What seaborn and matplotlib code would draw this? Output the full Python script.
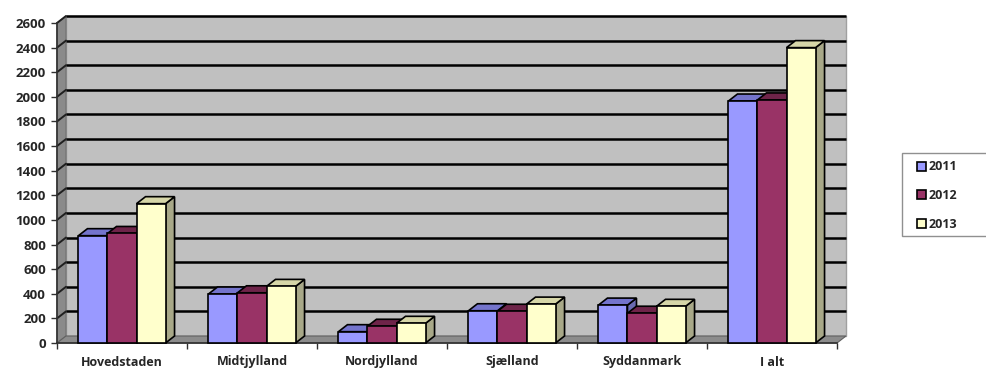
import numpy as np
import pandas as pd
import seaborn as sns
import matplotlib
matplotlib.use("Agg")
import matplotlib.pyplot as plt
from matplotlib.patches import Polygon, Rectangle, Patch

regions = ["Hovedstaden", "Midtjylland", "Nordjylland", "Sjælland", "Syddanmark", "I alt"]
years = ["2011", "2012", "2013"]
v2011 = [872, 398, 92, 262, 308, 1966]
v2012 = [890, 408, 136, 258, 242, 1975]
v2013 = [1132, 460, 160, 316, 298, 2400]
yticks = list(range(0, 2601, 200))

front_colors = ["#9999FF", "#993366", "#FFFFCC"]
top_colors = ["#7474CC", "#6E2449", "#D6D6A8"]
side_colors = ["#6A6AB0", "#5E1E3E", "#A8A888"]

df = pd.DataFrame({
    "region": regions * 3,
    "year": [y for y in years for _ in regions],
    "value": v2011 + v2012 + v2013,
})

sns.set_theme(style="white")
plt.rcParams["font.family"] = ["Open Sans", "DejaVu Sans"]

W, H = 987, 369
fig = plt.figure(figsize=(W / 100, H / 100), dpi=100)
fig.patch.set_facecolor("white")
left_px, right_px, bot_px, top_px = 57, 837, 343, 23
ax = fig.add_axes([left_px / W, 1 - bot_px / H, (right_px - left_px) / W, (bot_px - top_px) / H])

sns.barplot(data=df, x="region", y="value", hue="year", palette=front_colors,
            width=0.67, edgecolor="black", linewidth=1.2, ax=ax, legend=False,
            saturation=1, gap=0)

ax.set_xlim(-0.5, 5.5)
ax.set_ylim(0, 2600)
ax.set_facecolor("none")

px_per_x = (right_px - left_px) / 6.0
px_per_y = (bot_px - top_px) / 2600.0
ddx = 9 / px_per_x
ddy = 7 / px_per_y

x0, x1 = -0.5, 5.5
ax.add_patch(Rectangle((x0 + ddx, ddy), 6, 2600, facecolor="#C0C0C0", edgecolor="#A0A0A0",
                       lw=1, zorder=0.5, clip_on=False))
ax.add_patch(Polygon([(x0, 0), (x0, 2600), (x0 + ddx, 2600 + ddy), (x0 + ddx, ddy)],
                     closed=True, facecolor="#8A8A8A", edgecolor="#707070", lw=0.8,
                     zorder=0.6, clip_on=False))
ax.add_patch(Polygon([(x0, 0), (x1, 0), (x1 + ddx, ddy), (x0 + ddx, ddy)],
                     closed=True, facecolor="#8C8C8C", edgecolor="#606060", lw=0.8,
                     zorder=0.6, clip_on=False))
for v in yticks[1:]:
    ax.plot([x0 + ddx, x1 + ddx], [v + ddy, v + ddy], color="black", lw=1.8,
            zorder=0.8, clip_on=False, solid_capstyle="butt")
    ax.plot([x0, x0 + ddx], [v, v + ddy], color="#202020", lw=1.4,
            zorder=0.8, clip_on=False)

bars = [p for p in ax.patches if isinstance(p, Rectangle) and p.get_width() < 1]
bars = sorted(bars, key=lambda p: p.get_x())
for k, p in enumerate(bars):
    x = p.get_x(); w = p.get_width(); h = p.get_height()
    fc = matplotlib.colors.to_hex(p.get_facecolor())
    idx = [c.lower() for c in front_colors].index(fc.lower())
    z = 3 + k * 0.1
    side = Polygon([(x + w, 0), (x + w, h), (x + w + ddx, h + ddy), (x + w + ddx, ddy)],
                   closed=True, facecolor=side_colors[idx], edgecolor="black", lw=1.2,
                   zorder=z, clip_on=False)
    top = Polygon([(x, h), (x + w, h), (x + w + ddx, h + ddy), (x + ddx, h + ddy)],
                  closed=True, facecolor=top_colors[idx], edgecolor="black", lw=1.2,
                  zorder=z + 0.01, clip_on=False)
    ax.add_patch(side)
    ax.add_patch(top)
    p.set_zorder(z + 0.02)
    p.set_clip_on(False)

for s in ["top", "right"]:
    ax.spines[s].set_visible(False)
for s in ["left", "bottom"]:
    ax.spines[s].set_color("#303030")
    ax.spines[s].set_linewidth(1.2)
    ax.spines[s].set_zorder(2)

ax.set_yticks(yticks)
ax.set_yticklabels([str(v) for v in yticks], fontsize=9.5, fontweight="bold")
ax.tick_params(axis="y", direction="out", length=4, width=1, color="#303030", pad=4, left=True)
ax.set_xticks(range(len(regions)))
ax.set_xticklabels(regions, fontsize=9, fontweight="bold")
ax.set_xticks(np.arange(-0.5, 6, 1), minor=True)
ax.tick_params(axis="x", which="major", length=0, pad=9, bottom=True)
ax.tick_params(axis="x", which="minor", direction="out", length=4, width=1, color="#303030", bottom=True)
ax.set_xlabel("")
ax.set_ylabel("")
ax.grid(False)

fig.patches.append(Rectangle((902 / W, 1 - 236 / H), 100 / W, 83 / H, transform=fig.transFigure,
                             facecolor="white", edgecolor="#909090", lw=1, zorder=5))
handles = [Patch(facecolor=c, edgecolor="black", linewidth=1.2) for c in front_colors]
leg = fig.legend(handles, years, loc="upper left", bbox_to_anchor=(915 / W, 1 - 158 / H),
                 frameon=False, fontsize=9,
                 handlelength=0.7, handleheight=0.7, handletextpad=0.15,
                 labelspacing=1.25, borderpad=0.2, borderaxespad=0)
leg.set_zorder(6)
for t in leg.get_texts():
    t.set_fontweight("bold")

fig.savefig("out.png", dpi=100)
